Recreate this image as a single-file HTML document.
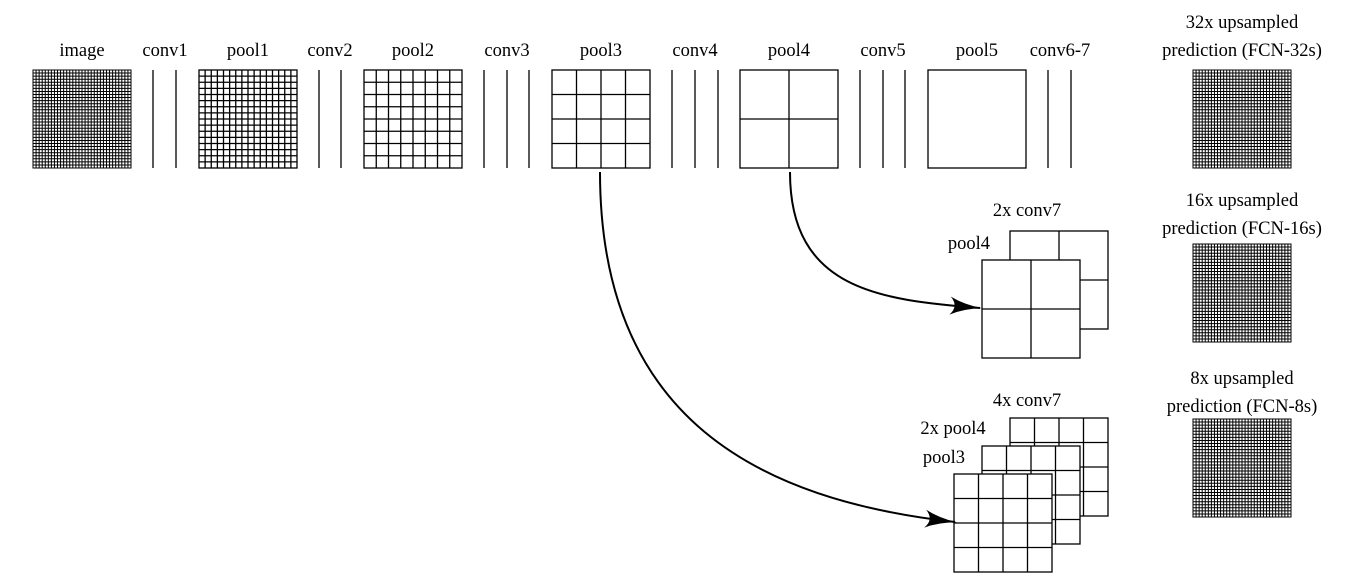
<!DOCTYPE html>
<html><head><meta charset="utf-8"><style>
html,body{margin:0;padding:0;background:#fff;}
svg{display:block;}
text{font-family:"Liberation Serif",serif;font-size:18.5px;fill:#000;text-anchor:middle;}
</style></head><body>
<svg id="s" width="1364" height="580" viewBox="0 0 1364 580" xmlns="http://www.w3.org/2000/svg">
<defs>
<marker id="ar" markerWidth="32" markerHeight="22" refX="30" refY="11" orient="auto" markerUnits="userSpaceOnUse">
<path d="M0,2 Q14,9 32,11 Q14,13 0,20 Q9,11 0,2 Z" fill="#000"/>
</marker>
</defs>
<g id="g" stroke="#000" stroke-width="1.3" fill="none"></g>
<text x="82" y="56">image</text>
<text x="165" y="56">conv1</text>
<text x="248" y="56">pool1</text>
<text x="330" y="56">conv2</text>
<text x="413" y="56">pool2</text>
<text x="507" y="56">conv3</text>
<text x="601" y="56">pool3</text>
<text x="695" y="56">conv4</text>
<text x="789" y="56">pool4</text>
<text x="883" y="56">conv5</text>
<text x="977" y="56">pool5</text>
<text x="1060" y="56">conv6-7</text>
<text x="1242" y="28">32x upsampled</text>
<text x="1242" y="56">prediction (FCN-32s)</text>
<text x="1242" y="206">16x upsampled</text>
<text x="1242" y="234">prediction (FCN-16s)</text>
<text x="1242" y="384">8x upsampled</text>
<text x="1242" y="412">prediction (FCN-8s)</text>
<text x="1027" y="216">2x conv7</text>
<text x="969" y="249">pool4</text>
<text x="1027" y="406">4x conv7</text>
<text x="953" y="434">2x pool4</text>
<text x="944" y="463">pool3</text>
<path d="M600,172 C600,420 760,500 955,522" stroke="#000" stroke-width="2" fill="none" marker-end="url(#ar)"/>
<path d="M790,172 C790,290 880,300 980,308" stroke="#000" stroke-width="2" fill="none" marker-end="url(#ar)"/>
</svg>
<script>
var g=document.getElementById('g');var o='';
function grid(x,y,s,n,sw){var c=s/n;o+='<rect x="'+x+'" y="'+y+'" width="'+s+'" height="'+s+'" fill="#fff" stroke-width="'+(sw||1.3)+'"/>';
for(var i=1;i<n;i++){var p=(i*c).toFixed(2);o+='<line x1="'+(x+ +p)+'" y1="'+y+'" x2="'+(x+ +p)+'" y2="'+(y+s)+'" stroke-width="'+(sw||1.3)+'"/>';o+='<line x1="'+x+'" y1="'+(y+ +p)+'" x2="'+(x+s)+'" y2="'+(y+ +p)+'" stroke-width="'+(sw||1.3)+'"/>';}}
function vl(x){o+='<line x1="'+x+'" y1="70" x2="'+x+'" y2="168"/>';}
grid(33,70,98,32,1);vl(153);vl(176);grid(199,70,98,16);vl(319);vl(341);grid(364,70,98,8);vl(484);vl(507);vl(529);
grid(552,70,98,4);vl(672);vl(695);vl(718);grid(740,70,98,2);vl(860);vl(883);vl(905);grid(928,70,98,1);vl(1048);vl(1071);
grid(1193,70,98,32,1);grid(1193,244,98,32,1);grid(1193,419,98,32,1);
grid(1010,231,98,2);grid(982,260,98,2);
grid(1010,418,98,4);grid(982,446,98,4);grid(954,474,98,4);
g.innerHTML=o;
</script>
</body></html>
